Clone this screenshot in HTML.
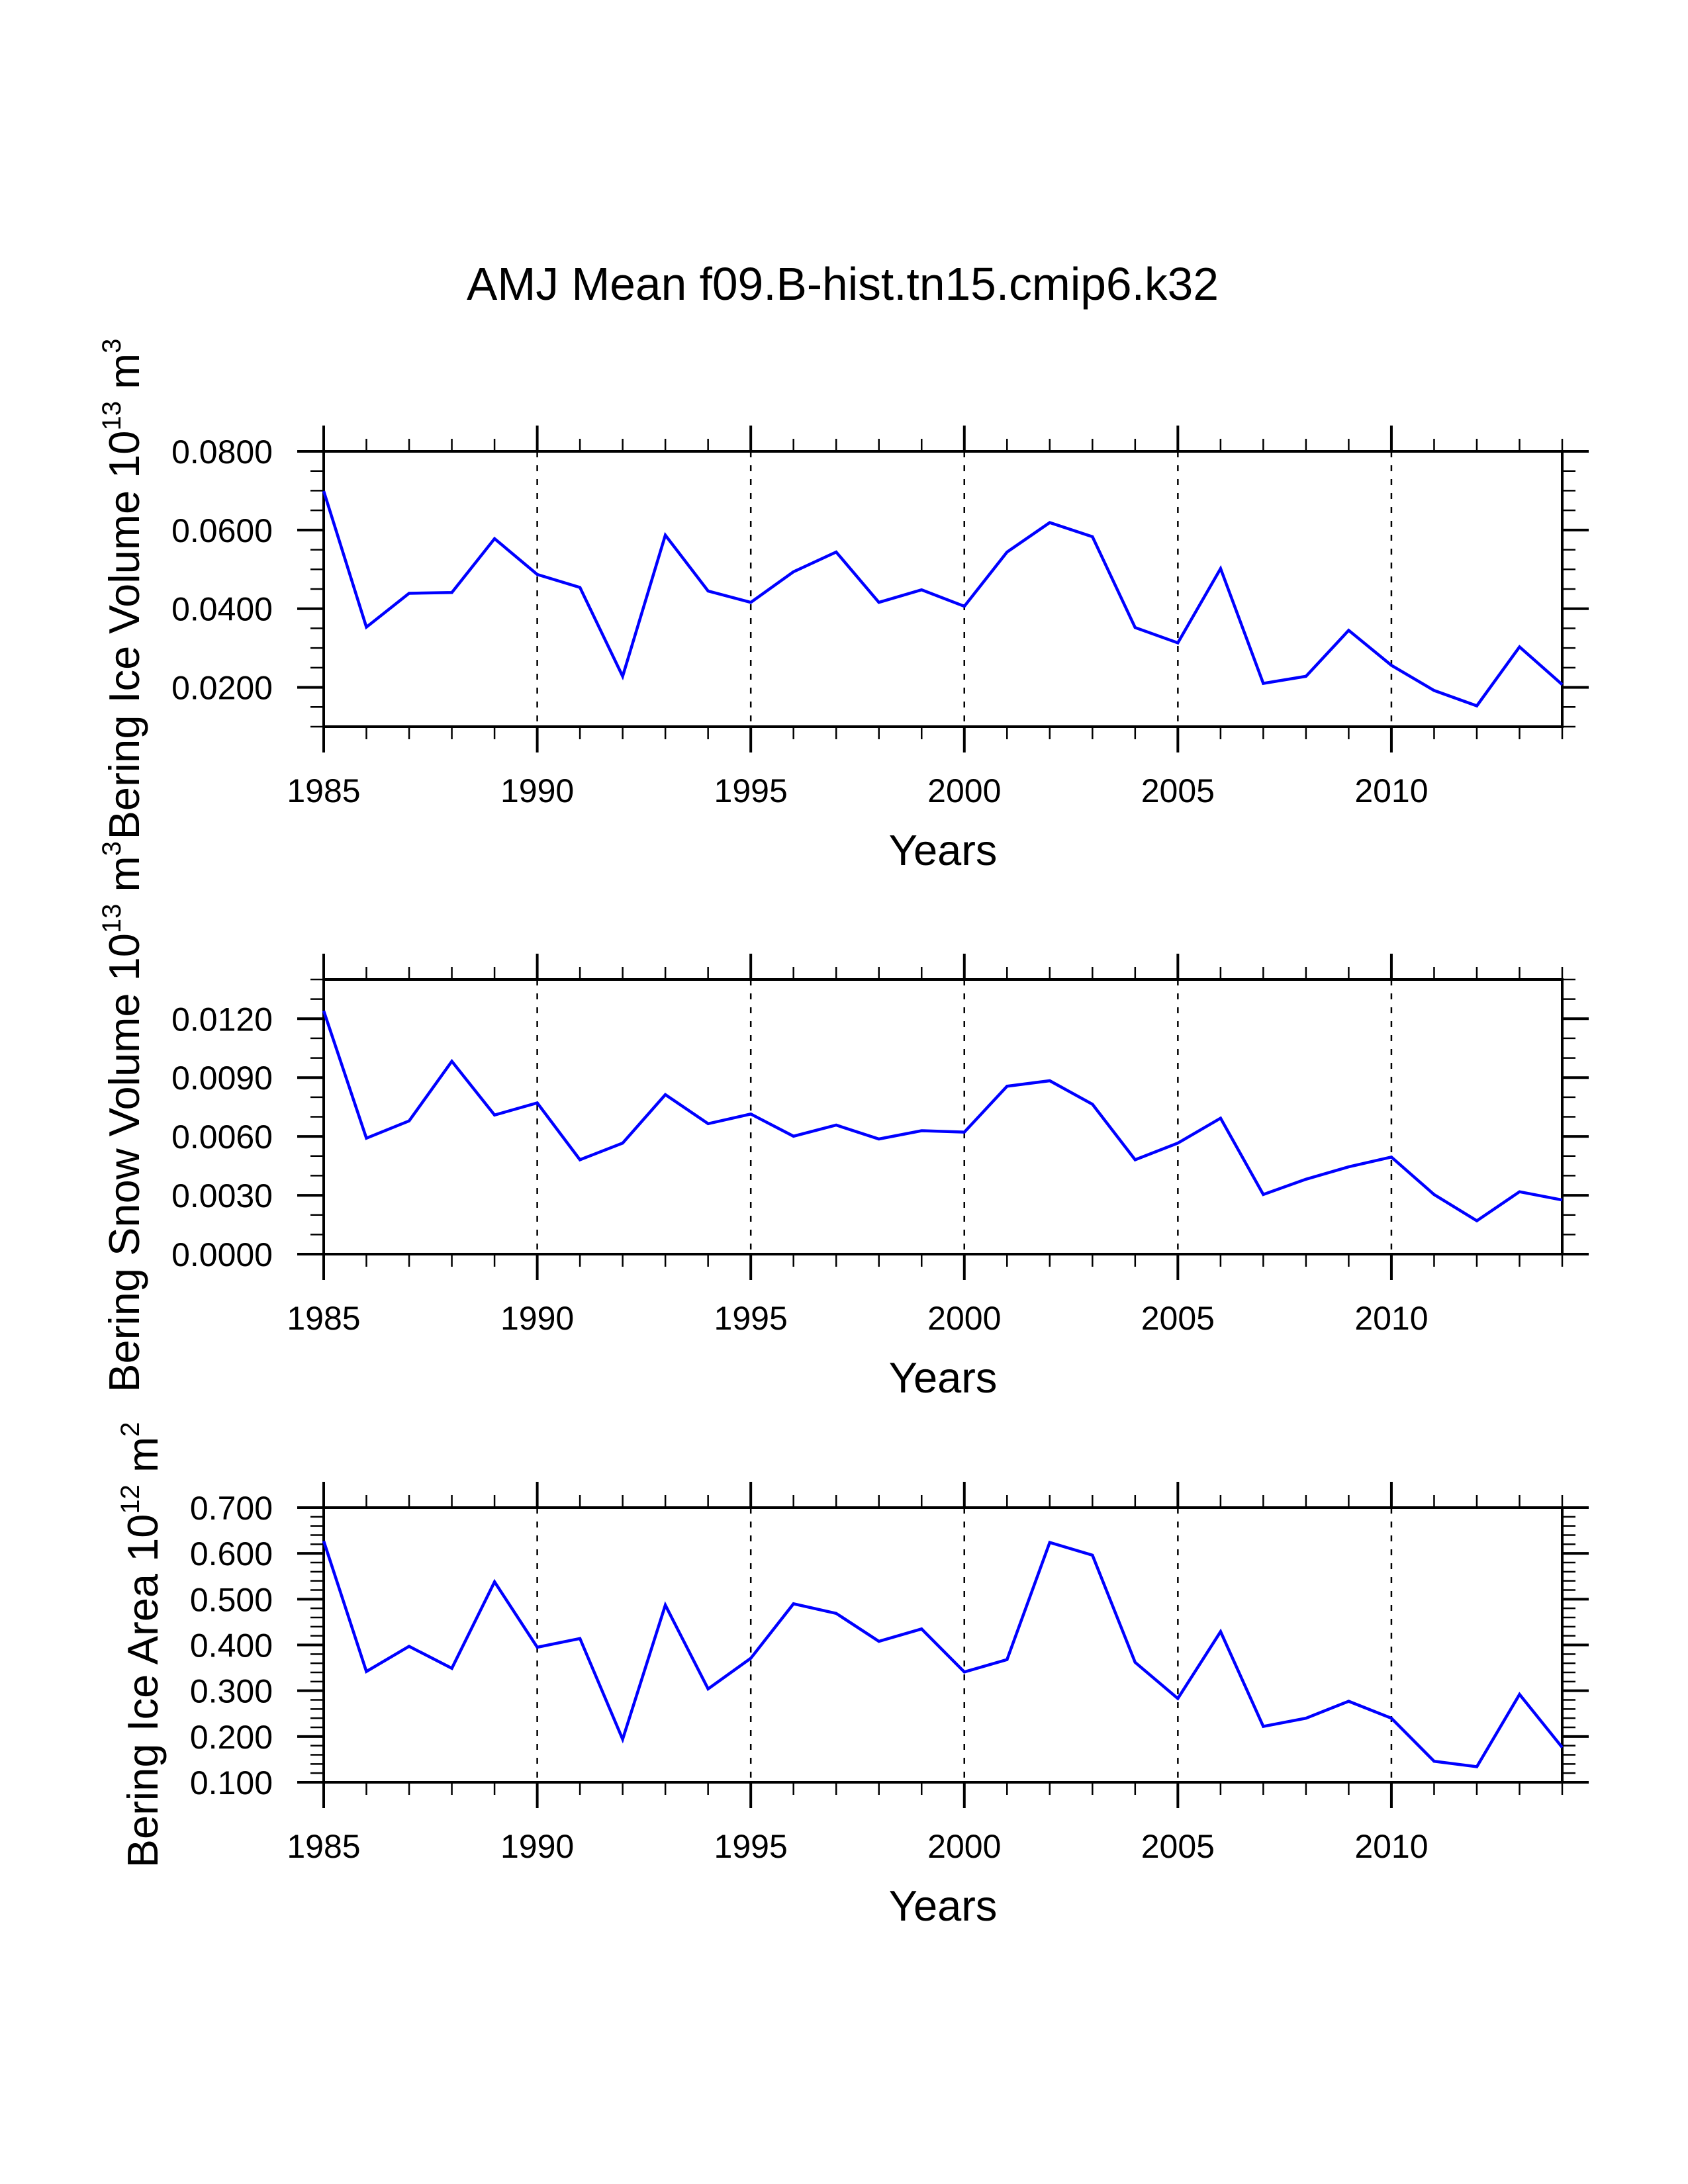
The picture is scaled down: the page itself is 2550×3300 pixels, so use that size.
<!DOCTYPE html>
<html><head><meta charset="utf-8">
<style>
html,body{margin:0;padding:0;background:#fff;}
svg{display:block;}
text{font-family:"Liberation Sans",Arial,sans-serif;fill:#000;}
</style></head>
<body>
<svg id="fig" xmlns="http://www.w3.org/2000/svg" width="2550" height="3300" viewBox="0 0 2550 3300">
<rect width="2550" height="3300" fill="#fff"/>
<text x="1273" y="453" font-size="70" text-anchor="middle" textLength="1136" lengthAdjust="spacingAndGlyphs">AMJ Mean f09.B-hist.tn15.cmip6.k32</text>
</svg>
<script>
const years = [1985,1986,1987,1988,1989,1990,1991,1992,1993,1994,1995,1996,1997,1998,1999,2000,2001,2002,2003,2004,2005,2006,2007,2008,2009,2010,2011,2012,2013,2014];
const iceVolume = [0.0699,0.0353,0.0439,0.0441,0.0578,0.0487,0.0454,0.0228,0.0587,0.0445,0.0416,0.0494,0.0544,0.0416,0.0448,0.0406,0.0544,0.0619,0.0583,0.0352,0.0313,0.0502,0.0210,0.0228,0.0345,0.0256,0.0192,0.0153,0.0303,0.0207];
const snowVolume = [0.0124,0.00591,0.00679,0.00983,0.00709,0.00771,0.00481,0.00566,0.00813,0.00665,0.00714,0.00601,0.00658,0.00587,0.00629,0.00622,0.00856,0.00884,0.00764,0.00481,0.00566,0.00693,0.00304,0.00382,0.00445,0.00495,0.00304,0.00170,0.00318,0.00276];
const iceArea = [0.627,0.342,0.397,0.349,0.538,0.395,0.414,0.194,0.487,0.304,0.371,0.490,0.469,0.408,0.435,0.341,0.368,0.624,0.596,0.362,0.283,0.429,0.222,0.240,0.277,0.240,0.146,0.134,0.292,0.176];
const xTickLabels = ["1985","1990","1995","2000","2005","2010"];
const iceVolumeTicks = ["0.0200","0.0400","0.0600","0.0800"];
const snowVolumeTicks = ["0.0000","0.0030","0.0060","0.0090","0.0120"];
const iceAreaTicks = ["0.100","0.200","0.300","0.400","0.500","0.600","0.700"];

const NS = "http://www.w3.org/2000/svg";
const svg = document.getElementById('fig');
const X0 = 489, X1 = 2360, yearMin = 1985, yearMax = 2014;
function xScale(yr){ return X0 + (yr - yearMin) / (yearMax - yearMin) * (X1 - X0); }

function el(tag, attrs, parent){
  const e = document.createElementNS(NS, tag);
  for (const k in attrs) e.setAttribute(k, attrs[k]);
  (parent || svg).appendChild(e);
  return e;
}

const panels = [
  {key:'ice-volume', top:682, bottom:1098, vmin:0.01, vmax:0.08, major:0.02, minor:0.005, ticks:iceVolumeTicks, data:iceVolume, titleMain:'Bering Ice Volume 10', sup1:'13', mid:' m', sup2:'3', titleX:210},
  {key:'snow-volume', top:1480, bottom:1895, vmin:0.0, vmax:0.014, major:0.003, minor:0.001, ticks:snowVolumeTicks, data:snowVolume, titleMain:'Bering Snow Volume 10', sup1:'13', mid:' m', sup2:'3', titleX:210},
  {key:'ice-area', top:2278, bottom:2693, vmin:0.1, vmax:0.7, major:0.1, minor:0.02, ticks:iceAreaTicks, data:iceArea, titleMain:'Bering Ice Area 10', sup1:'12', mid:' m', sup2:'2', titleX:238}
];

panels.forEach(p => {
  const g = el('g', {});
  
  
  const yScale = v => p.bottom - (v - p.vmin) / (p.vmax - p.vmin) * (p.bottom - p.top);

  // dashed grid lines at major years
  xTickLabels.forEach(lbl => {
    const yr = +lbl;
    if (yr === yearMin) return;
    const gl = el('line', {x1:xScale(yr), x2:xScale(yr), y1:p.top, y2:p.bottom, stroke:'#000', 'stroke-width':2.5, 'stroke-dasharray':'9 12'}, g);
    
    
  });

  // x ticks (top and bottom)
  years.forEach(yr => {
    const x = xScale(yr);
    const isMajor = (yr - yearMin) % 5 === 0;
    const len = isMajor ? 39 : 19, w = isMajor ? 4 : 2.5;
    el('line', {x1:x, x2:x, y1:p.top, y2:p.top - len, stroke:'#000', 'stroke-width':w}, g);
    el('line', {x1:x, x2:x, y1:p.bottom, y2:p.bottom + len, stroke:'#000', 'stroke-width':w}, g);
  });

  // y ticks (left and right)
  const nMinor = Math.round((p.vmax - p.vmin) / p.minor);
  for (let i = 0; i <= nMinor; i++) {
    const v = p.vmin + i * p.minor;
    const y = yScale(v);
    const r = Math.abs(v / p.major - Math.round(v / p.major));
    const isMajor = r < 1e-6;
    const len = isMajor ? 40 : 20, w = isMajor ? 4 : 2.5;
    el('line', {x1:X0, x2:X0 - len, y1:y, y2:y, stroke:'#000', 'stroke-width':w}, g);
    el('line', {x1:X1, x2:X1 + len, y1:y, y2:y, stroke:'#000', 'stroke-width':w}, g);
  }

  // y tick labels
  p.ticks.forEach(lbl => {
    const t = el('text', {x:412, y:yScale(+lbl) + 18, 'font-size':50, 'text-anchor':'end'}, g);
    t.textContent = lbl;
    
    
  });

  // x tick labels
  xTickLabels.forEach(lbl => {
    const t = el('text', {x:xScale(+lbl), y:p.bottom + 114, 'font-size':50, 'text-anchor':'middle'}, g);
    t.textContent = lbl;
    
    
  });

  // frame
  const fr = el('rect', {x:X0, y:p.top, width:X1 - X0, height:p.bottom - p.top, fill:'none', stroke:'#000', 'stroke-width':4}, g);
  
  

  // series
  const pts = years.map((yr, i) => xScale(yr).toFixed(1) + ',' + yScale(p.data[i]).toFixed(1)).join(' ');
  const line = el('polyline', {points:pts, fill:'none', stroke:'#0000ff', 'stroke-width':4.5, 'stroke-linejoin':'miter'}, g);
  
  

  // x axis title
  const xt = el('text', {x:(X0 + X1) / 2, y:p.bottom + 209, 'font-size':65, 'text-anchor':'middle'}, g);
  xt.textContent = 'Years';
  
  

  // y axis title (rotated)
  const cy = (p.top + p.bottom) / 2;
  const yt = el('text', {x:p.titleX, y:cy, 'font-size':65, 'text-anchor':'middle', transform:'rotate(-90 ' + p.titleX + ' ' + cy + ')'}, g);
  yt.setAttribute('transform', 'translate(' + p.titleX + ',' + cy + ') rotate(-90)');
  yt.setAttribute('x', 0);
  yt.setAttribute('y', 0);
  
  
  const s1 = el('tspan', {}, yt); s1.textContent = p.titleMain;
  const s2 = el('tspan', {dy:-28, 'font-size':40}, yt); s2.textContent = p.sup1;
  const s3 = el('tspan', {dy:28}, yt); s3.textContent = p.mid;
  const s4 = el('tspan', {dy:-28, 'font-size':40}, yt); s4.textContent = p.sup2;
});
</script>
</body></html>
